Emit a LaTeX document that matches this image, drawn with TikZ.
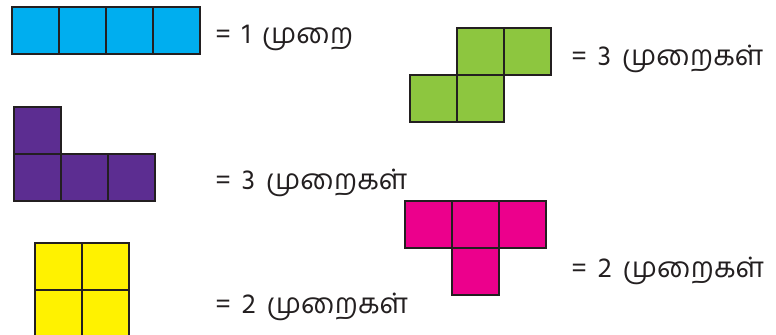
\documentclass[tikz,border=0pt]{standalone}
\usepackage{fontspec}
\newfontfamily\tamilfont[Script=Tamil, WordSpace=1.6]{Hind Madurai}
\usepackage{tikz}
\usetikzlibrary{positioning}
\definecolor{tileblue}{RGB}{0, 174, 239}
\definecolor{tilegreen}{RGB}{141, 198, 63}
\definecolor{tilepurple}{RGB}{92, 45, 145}
\definecolor{tileyellow}{RGB}{255, 242, 0}
\definecolor{tilemagenta}{RGB}{236, 0, 140}
\definecolor{tileline}{RGB}{35, 31, 32}
\newcommand{\cell}{47}

\begin{document}
\begin{tikzpicture}[x=0.025cm, y=-0.025cm,
    tile/.style={draw=tileline, line width=1pt},
    count/.style={anchor=base west, inner sep=0pt, font=\tamilfont\fontsize{20}{24}\selectfont, text=tileline}]
  \useasboundingbox (0,0) rectangle (776,335);
  \clip (0,0) rectangle (776,335);
  %---- Straight piece (four in a row) ---------------------------------------
  \foreach \i in {0,...,3}
    \draw[tile, fill=tileblue] ({12+\cell*\i},7) rectangle ++(\cell,\cell);
  \node[count] (lblblue) at (215,43) {= 1 முறை};
  %---- S piece --------------------------------------------------------------
  \foreach \x/\y in {410/75, 457/75, 457/28, 504/28}
    \draw[tile, fill=tilegreen] (\x,\y) rectangle ++(\cell,\cell);
  \node[count] (lblgreen) at (571,65) {= 3 முறைகள்};
  %---- L piece --------------------------------------------------------------
  \foreach \x/\y in {14/107, 14/154, 61/154, 108/154}
    \draw[tile, fill=tilepurple] (\x,\y) rectangle ++(\cell,\cell);
  \node[count] (lblpurple) at (215,189) {= 3 முறைகள்};
  %---- Square piece ---------------------------------------------------------
  \foreach \x/\y in {35/243, 82/243, 35/290, 82/290}
    \draw[tile, fill=tileyellow] (\x,\y) rectangle ++(\cell,\cell);
  \node[count] (lblyellow) at (215,313) {= 2 முறைகள்};
  %---- T piece --------------------------------------------------------------
  \foreach \x/\y in {405/201, 452/201, 499/201, 452/248}
    \draw[tile, fill=tilemagenta] (\x,\y) rectangle ++(\cell,\cell);
  \node[count] (lblmagenta) at (571,277) {= 2 முறைகள்};
\end{tikzpicture}
\end{document}
